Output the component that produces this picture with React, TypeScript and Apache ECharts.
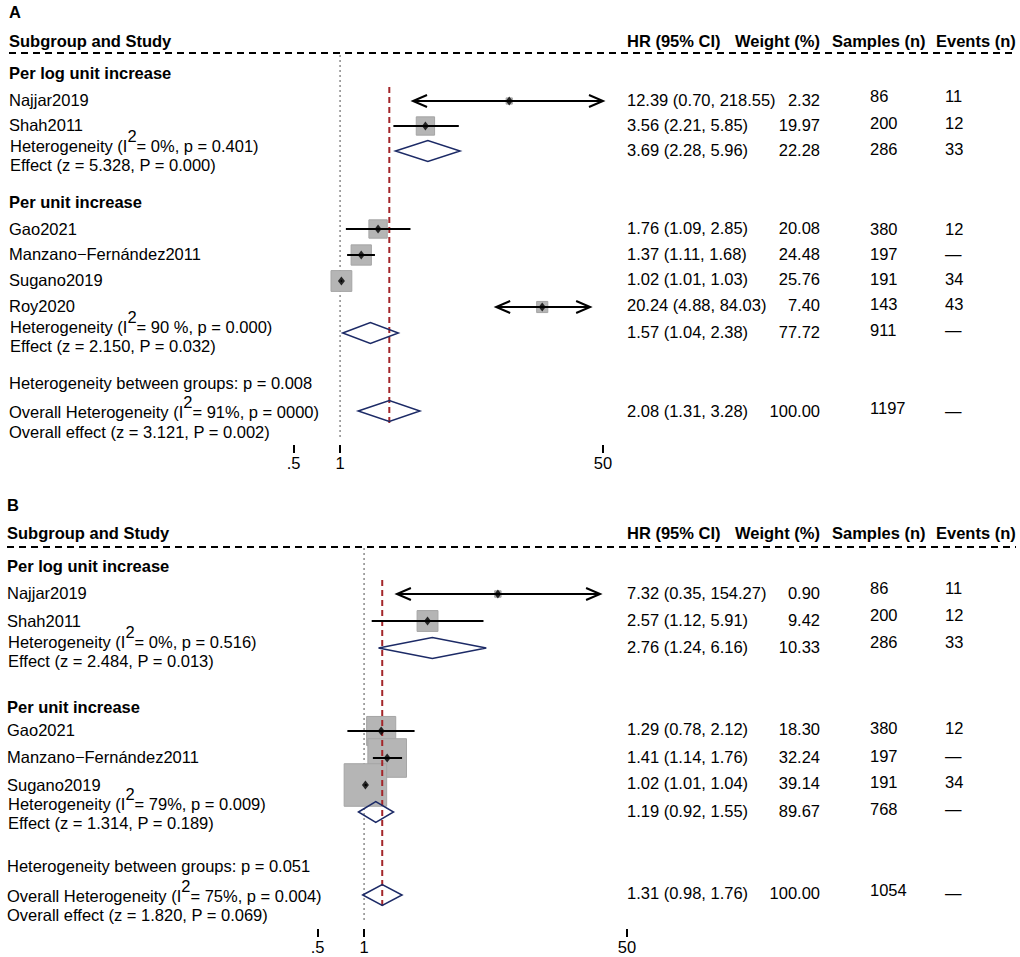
import React, { useEffect, useRef } from 'react';
import * as echarts from 'echarts';

// ================= DATA =================
// tick labels of the (log) HR axis
const tickValues = [0.5, 1, 50];
const tickLabels = ['.5', '1', '50'];

const headerLeft = 'Subgroup and Study';
const headerCols = ['HR (95% CI)', 'Weight (%)', 'Samples (n)', 'Events (n)'];
const groupNames = ['Per log unit increase', 'Per unit increase'];

// ---- Panel A ----
const studiesA = ['Najjar2019', 'Shah2011', 'Gao2021', 'Manzano\u2212Fernández2011', 'Sugano2019', 'Roy2020'];
const hrA = [12.39, 3.56, 1.76, 1.37, 1.02, 20.24];
const loA = [0.70, 2.21, 1.09, 1.11, 1.01, 4.88];
const hiA = [218.55, 5.85, 2.85, 1.68, 1.03, 84.03];
const weightA = [2.32, 19.97, 20.08, 24.48, 25.76, 7.40];
const samplesA = [86, 200, 380, 197, 191, 143];
const eventsA = ['11', '12', '12', '\u2014', '34', '43'];
// CI extent as drawn with arrows in the figure (null = drawn from the CI itself)
const arrowLoA = [2.96, null, null, null, null, 10.2];
const arrowHiA = [50, null, null, null, null, 41.3];
const sumHrA = [3.69, 1.57];
const sumLoA = [2.28, 1.04];
const sumHiA = [5.96, 2.38];
const sumWeightA = [22.28, 77.72];
const sumSamplesA = [286, 911];
const sumEventsA = ['33', '\u2014'];
const hetI2A = ['0%', '90 %'];
const hetPA = ['0.401', '0.000'];
const effZA = ['5.328', '2.150'];
const effPA = ['0.000', '0.032'];
const betweenPA = '0.008';
const overallA = [2.08, 1.31, 3.28]; // HR, lo, hi
const overallWeightA = 100.0;
const overallSamplesA = 1197;
const overallEventsA = '\u2014';
const overallI2A = '91%';
const overallHetPA = '0000';
const overallZA = '3.121';
const overallPA = '0.002';

// ---- Panel B ----
const studiesB = ['Najjar2019', 'Shah2011', 'Gao2021', 'Manzano\u2212Fernández2011', 'Sugano2019'];
const hrB = [7.32, 2.57, 1.29, 1.41, 1.02];
const loB = [0.35, 1.12, 0.78, 1.14, 1.01];
const hiB = [154.27, 5.91, 2.12, 1.76, 1.04];
const weightB = [0.90, 9.42, 18.30, 32.24, 39.14];
const samplesB = [86, 200, 380, 197, 191];
const eventsB = ['11', '12', '12', '\u2014', '34'];
const arrowLoB = [1.63, null, null, null, null];
const arrowHiB = [33.5, null, null, null, null];
const sumHrB = [2.76, 1.19];
const sumLoB = [1.24, 0.92];
const sumHiB = [6.16, 1.55];
const sumWeightB = [10.33, 89.67];
const sumSamplesB = [286, 768];
const sumEventsB = ['33', '\u2014'];
const hetI2B = ['0%', '79%'];
const hetPB = ['0.516', '0.009'];
const effZB = ['2.484', '1.314'];
const effPB = ['0.013', '0.189'];
const betweenPB = '0.051';
const overallB = [1.31, 0.98, 1.76];
const overallWeightB = 100.0;
const overallSamplesB = 1054;
const overallEventsB = '\u2014';
const overallI2B = '75%';
const overallHetPB = '0.004';
const overallZB = '1.820';
const overallPB = '0.069';

// ================= STYLE / LAYOUT =================
const FAMILY = '"Liberation Sans", Arial, Helvetica, sans-serif';
const FS = 16.5;
const FONT_R = `${FS}px ${FAMILY}`;
const FONT_B = `bold ${FS}px ${FAMILY}`;
const COL_X = [627, 735, 832, 936]; // header x
const COL_HR = 627;
const COL_W = 820;
const COL_N = 870;
const COL_E = 945;
const PLOT_W = 309.5;
const DIAMOND_H = 10.5;
const SQUARE_FILL = '#b5b5b5';
const SQUARE_STROKE = '#a5a5a5';
const DIAMOND_STROKE = '#1c2a66';
const RED = '#a3262a';

const layoutA = {
  xLeft: 9, letterY: 12, headerY: 41, dashY: 53,
  groupTitleY: [73, 202],
  studyY: [100, 125, 229, 254, 280, 306],
  studyMarkY: [101, 126, 229, 255, 281, 307],
  studyHrY: [100, 125, 228, 254, 279, 305],
  studyNY: [96, 123, 229, 254, 279, 304],
  hetY: [146, 327], effY: [165, 346],
  sumMarkY: [151, 333], sumHrY: [150, 332], sumNY: [149, 330],
  betweenY: 383, overallHetY: 412, overallEffY: 432,
  overallMarkY: 411, overallHrY: 411, overallNY: 408,
  dottedY: [55, 440], redY: [87, 423], axisY: 445,
  plotLeft: 293.5, sqK: 4.1,
};
const layoutB = {
  xLeft: 7, letterY: 505, headerY: 533, dashY: 547,
  groupTitleY: [566, 707],
  studyY: [593, 621, 730, 757, 785],
  studyMarkY: [594, 621, 731, 758, 785],
  studyHrY: [593, 620, 729, 757, 783],
  studyNY: [588, 615, 728, 756, 782],
  hetY: [642, 804], effY: [661, 823],
  sumMarkY: [648, 812], sumHrY: [647, 811], sumNY: [642, 809],
  betweenY: 866, overallHetY: 896, overallEffY: 915,
  overallMarkY: 895, overallHrY: 893, overallNY: 890,
  dottedY: [548, 923], redY: [580, 907], axisY: 929,
  plotLeft: 317.5, sqK: 6.8,
};

const panelA = {
  letter: 'A', studies: studiesA, hr: hrA, lo: loA, hi: hiA, weight: weightA, samples: samplesA, events: eventsA,
  arrowLo: arrowLoA, arrowHi: arrowHiA, sumHr: sumHrA, sumLo: sumLoA, sumHi: sumHiA, sumWeight: sumWeightA,
  sumSamples: sumSamplesA, sumEvents: sumEventsA, hetI2: hetI2A, hetP: hetPA, effZ: effZA, effP: effPA,
  betweenP: betweenPA, overall: overallA, overallWeight: overallWeightA, overallSamples: overallSamplesA,
  overallEvents: overallEventsA, overallI2: overallI2A, overallHetP: overallHetPA, overallZ: overallZA, overallP: overallPA,
};
const panelB = {
  letter: 'B', studies: studiesB, hr: hrB, lo: loB, hi: hiB, weight: weightB, samples: samplesB, events: eventsB,
  arrowLo: arrowLoB, arrowHi: arrowHiB, sumHr: sumHrB, sumLo: sumLoB, sumHi: sumHiB, sumWeight: sumWeightB,
  sumSamples: sumSamplesB, sumEvents: sumEventsB, hetI2: hetI2B, hetP: hetPB, effZ: effZB, effP: effPB,
  betweenP: betweenPB, overall: overallB, overallWeight: overallWeightB, overallSamples: overallSamplesB,
  overallEvents: overallEventsB, overallI2: overallI2B, overallHetP: overallHetPB, overallZ: overallZB, overallP: overallPB,
};

const ln = Math.log;
const hrText = (h: number, l: number, u: number) => `${h.toFixed(2)} (${l.toFixed(2)}, ${u.toFixed(2)})`;

function panelGraphics(d: any, L: any) {
  const els: any[] = [];
  const T = (x: number, y: number, text: string, bold = false, align = 'left') => {
    els.push({
      type: 'text', x, y, z: 100, silent: true,
      style: { text, font: bold ? FONT_B : FONT_R, fill: '#000', align, verticalAlign: 'middle' },
    });
  };
  const SUP = (x: number, y: number, before: string, after: string) => {
    els.push({
      type: 'text', x, y: y - 5, z: 100, silent: true,
      style: {
        text: `{m|${before}}{s|2}{m|${after}}`,
        font: FONT_R, fill: '#000', align: 'left', verticalAlign: 'middle',
        rich: {
          m: { font: FONT_R, fill: '#000', verticalAlign: 'bottom' },
          s: { font: FONT_R, fill: '#000', verticalAlign: 'top', padding: [0, 0, 10, 0] },
        },
      },
    });
  };
  T(L.xLeft, L.letterY, d.letter, true);
  T(L.xLeft, L.headerY, headerLeft, true);
  headerCols.forEach((h, i) => T(COL_X[i], L.headerY, h, true));
  els.push({
    type: 'line', z: 100, silent: true,
    shape: { x1: L.xLeft, y1: L.dashY, x2: 1016, y2: L.dashY },
    style: { stroke: '#000', lineWidth: 2, lineDash: [7, 5] },
  });
  groupNames.forEach((g, gi) => T(L.xLeft, L.groupTitleY[gi], g, true));
  d.studies.forEach((s: string, i: number) => {
    T(L.xLeft, L.studyY[i], s);
    T(COL_HR, L.studyHrY[i], hrText(d.hr[i], d.lo[i], d.hi[i]));
    T(COL_W, L.studyHrY[i], d.weight[i].toFixed(2), false, 'right');
    T(COL_N, L.studyNY[i], String(d.samples[i]));
    T(COL_E, L.studyNY[i], d.events[i]);
  });
  [0, 1].forEach((gi) => {
    SUP(L.xLeft + 1, L.hetY[gi], 'Heterogeneity (I', `= ${d.hetI2[gi]}, p = ${d.hetP[gi]})`);
    T(L.xLeft + 1, L.effY[gi], `Effect (z = ${d.effZ[gi]}, P = ${d.effP[gi]})`);
    T(COL_HR, L.sumHrY[gi], hrText(d.sumHr[gi], d.sumLo[gi], d.sumHi[gi]));
    T(COL_W, L.sumHrY[gi], d.sumWeight[gi].toFixed(2), false, 'right');
    T(COL_N, L.sumNY[gi], String(d.sumSamples[gi]));
    T(COL_E, L.sumNY[gi], d.sumEvents[gi]);
  });
  T(L.xLeft, L.betweenY, `Heterogeneity between groups: p = ${d.betweenP}`);
  SUP(L.xLeft, L.overallHetY, 'Overall Heterogeneity (I', `= ${d.overallI2}, p = ${d.overallHetP})`);
  T(L.xLeft, L.overallEffY, `Overall effect (z = ${d.overallZ}, P = ${d.overallP})`);
  T(COL_HR, L.overallHrY, hrText(d.overall[0], d.overall[1], d.overall[2]));
  T(COL_W, L.overallHrY, d.overallWeight.toFixed(2), false, 'right');
  T(COL_N, L.overallNY, String(d.overallSamples));
  T(COL_E, L.overallHrY, d.overallEvents);
  return els;
}

function panelSeries(idx: number, d: any, L: any) {
  const base = { xAxisIndex: idx, yAxisIndex: idx, silent: true, animation: false };
  const squares = {
    ...base, type: 'custom', z: 2,
    data: d.hr.map((h: number, i: number) => [ln(h), L.studyMarkY[i], d.weight[i]]),
    renderItem: (_p: any, api: any) => {
      const p = api.coord([api.value(0), api.value(1)]);
      const s = L.sqK * Math.sqrt(api.value(2));
      return {
        type: 'rect',
        shape: { x: p[0] - s / 2, y: p[1] - s / 2, width: s, height: s },
        style: { fill: SQUARE_FILL, stroke: SQUARE_STROKE, lineWidth: 1 },
      };
    },
  };
  const ci = {
    ...base, type: 'custom', z: 5,
    data: d.hr.map((_h: number, i: number) => {
      const lo = d.arrowLo[i] != null ? d.arrowLo[i] : d.lo[i];
      const hi = d.arrowHi[i] != null ? d.arrowHi[i] : d.hi[i];
      return [ln(lo), ln(hi), L.studyMarkY[i], d.arrowLo[i] != null ? 1 : 0, d.arrowHi[i] != null ? 1 : 0];
    }),
    renderItem: (_p: any, api: any) => {
      const y = api.value(2);
      const a = api.coord([api.value(0), y]);
      const b = api.coord([api.value(1), y]);
      const children: any[] = [{
        type: 'line', shape: { x1: a[0], y1: a[1], x2: b[0], y2: b[1] },
        style: { stroke: '#000', lineWidth: 2 },
      }];
      if (api.value(3)) children.push({
        type: 'polyline', shape: { points: [[a[0] + 14, a[1] - 6], [a[0], a[1]], [a[0] + 14, a[1] + 6]] },
        style: { stroke: '#000', lineWidth: 2, fill: 'none' },
      });
      if (api.value(4)) children.push({
        type: 'polyline', shape: { points: [[b[0] - 14, b[1] - 6], [b[0], b[1]], [b[0] - 14, b[1] + 6]] },
        style: { stroke: '#000', lineWidth: 2, fill: 'none' },
      });
      return { type: 'group', children };
    },
  };
  const points = {
    ...base, type: 'scatter', z: 6, symbol: 'diamond', symbolSize: [7, 9],
    itemStyle: { color: '#000' },
    data: d.hr.map((h: number, i: number) => [ln(h), L.studyMarkY[i]]),
  };
  const diamondData = [
    [ln(d.sumLo[0]), ln(d.sumHr[0]), ln(d.sumHi[0]), L.sumMarkY[0]],
    [ln(d.sumLo[1]), ln(d.sumHr[1]), ln(d.sumHi[1]), L.sumMarkY[1]],
    [ln(d.overall[1]), ln(d.overall[0]), ln(d.overall[2]), L.overallMarkY],
  ];
  const diamonds = {
    ...base, type: 'custom', z: 4,
    data: diamondData,
    renderItem: (_p: any, api: any) => {
      const y = api.value(3);
      const l = api.coord([api.value(0), y]);
      const c = api.coord([api.value(1), y]);
      const r = api.coord([api.value(2), y]);
      return {
        type: 'polygon',
        shape: { points: [[l[0], l[1]], [c[0], c[1] - DIAMOND_H], [r[0], r[1]], [c[0], c[1] + DIAMOND_H]] },
        style: { fill: 'none', stroke: DIAMOND_STROKE, lineWidth: 1.5 },
      };
    },
  };
  const nullLine = {
    ...base, type: 'line', z: 1, symbol: 'none',
    data: [[ln(1), L.dottedY[0]], [ln(1), L.dottedY[1]]],
    lineStyle: { color: '#8a8a8a', width: 1.5, type: [2, 3] },
  };
  const effLine = {
    ...base, type: 'line', z: 3, symbol: 'none',
    data: [[ln(d.overall[0]), L.redY[0]], [ln(d.overall[0]), L.redY[1]]],
    lineStyle: { color: RED, width: 2, type: [6, 4] },
  };
  return [nullLine, squares, effLine, diamonds, ci, points];
}

function axisFor(idx: number) {
  const vals = tickValues.map(ln);
  return {
    gridIndex: idx, type: 'value', min: ln(0.5), max: ln(50), position: 'bottom',
    axisLine: { show: false, onZero: false }, splitLine: { show: false },
    axisTick: { show: true, customValues: vals, length: 8, lineStyle: { color: '#000', width: 2 } },
    axisLabel: {
      show: true, customValues: vals, color: '#000', fontSize: FS, fontFamily: FAMILY, margin: 9,
      formatter: (v: number) => {
        const k = vals.findIndex((t) => Math.abs(t - v) < 1e-6);
        return k >= 0 ? tickLabels[k] : '';
      },
    },
  };
}

function buildOption() {
  return {
    animation: false,
    backgroundColor: '#fff',
    grid: [
      { left: layoutA.plotLeft, top: 0, width: PLOT_W, height: layoutA.axisY, outerBoundsMode: 'none' },
      { left: layoutB.plotLeft, top: 0, width: PLOT_W, height: layoutB.axisY, outerBoundsMode: 'none' },
    ],
    xAxis: [axisFor(0), axisFor(1)],
    yAxis: [
      { gridIndex: 0, type: 'value', min: 0, max: layoutA.axisY, inverse: true, show: false },
      { gridIndex: 1, type: 'value', min: 0, max: layoutB.axisY, inverse: true, show: false },
    ],
    series: [...panelSeries(0, panelA, layoutA), ...panelSeries(1, panelB, layoutB)],
    graphic: [...panelGraphics(panelA, layoutA), ...panelGraphics(panelB, layoutB)],
  };
}

export default function App() {
  const ref = useRef<HTMLDivElement>(null);
  useEffect(() => {
    const chart = echarts.init(ref.current!, null, { renderer: 'svg' });
    chart.setOption(buildOption() as any);
    return () => chart.dispose();
  }, []);
  return (
    <div
      ref={ref}
      style={{ position: 'absolute', left: 0, top: 0, width: 1020, height: 957, background: '#fff' }}
    />
  );
}
